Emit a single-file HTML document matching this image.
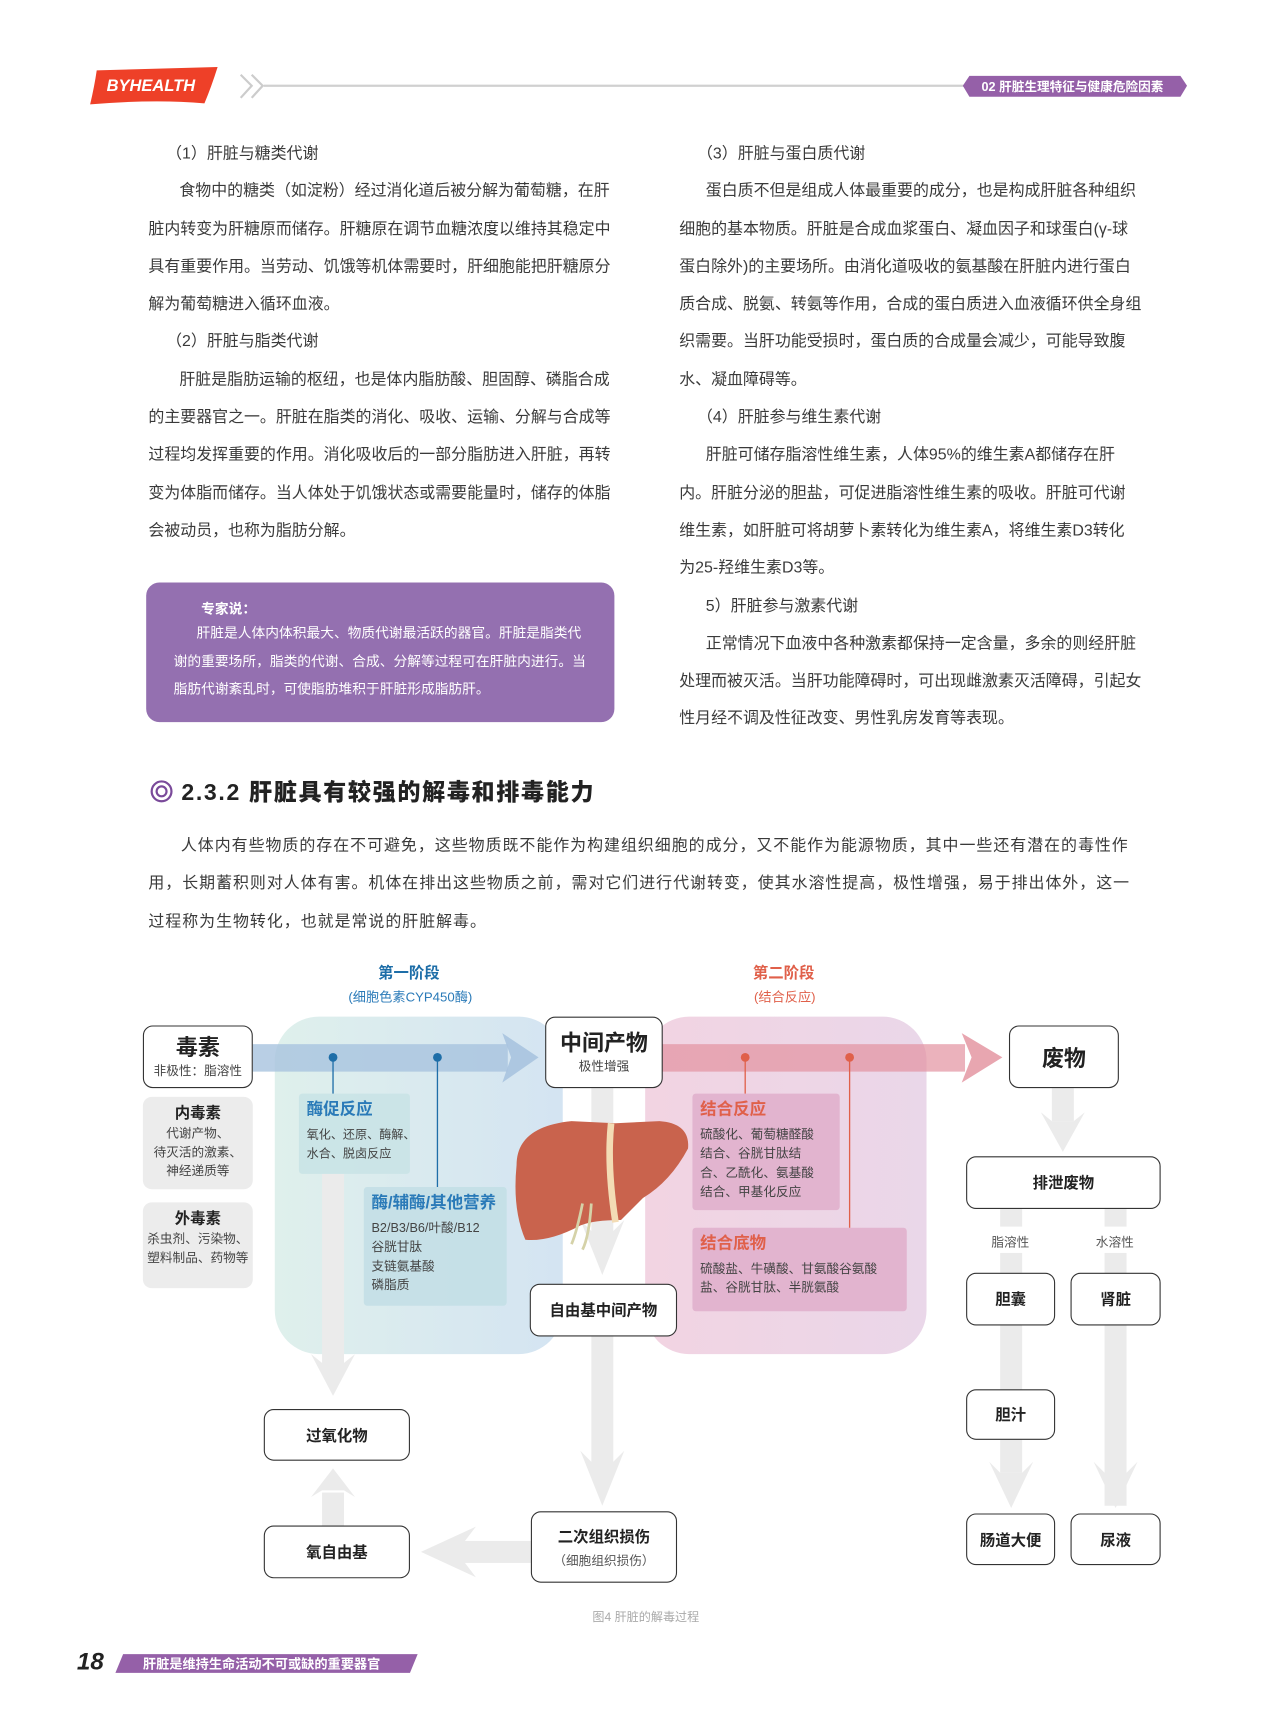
<!DOCTYPE html>
<html><head><meta charset="utf-8">
<style>
html,body{margin:0;padding:0;background:#fff;}
body{width:1275px;height:1718px;overflow:hidden;position:relative;}
#w{position:absolute;left:0;top:0;width:1160px;height:1563px;transform:scale(1.0991);transform-origin:0 0;font-family:"Liberation Sans","Noto Sans CJK SC",sans-serif;color:#444;}
.a{position:absolute;white-space:nowrap;}
.p{position:absolute;font-size:14.5px;line-height:34.3px;color:#3a3a3a;}
.p div{white-space:nowrap;}
.bx{position:absolute;box-sizing:border-box;border:1.5px solid #333;border-radius:9px;background:#fff;text-align:center;display:flex;flex-direction:column;justify-content:center;align-items:center;color:#222;font-weight:bold;}
.gb{position:absolute;background:#ececec;border-radius:8px;text-align:center;font-size:11.5px;line-height:17px;color:#444;}
.gb b{display:block;font-size:14px;color:#222;margin:6px 0 3px;}
.ib{position:absolute;font-size:11.5px;line-height:17.5px;color:#444;padding:6px 7px;box-sizing:border-box;border-radius:3px;white-space:nowrap;}
.ib b{display:block;font-size:15px;margin-bottom:6px;}
svg{position:absolute;left:0;top:0;}
</style></head><body><div id="w">
<svg width="1160" height="1563" viewBox="0 0 1160 1563">
<defs>
<linearGradient id="gB" x1="0" x2="1"><stop offset="0" stop-color="#dff0ec"/><stop offset="1" stop-color="#d4e4f2"/></linearGradient>
<linearGradient id="gP" x1="0" x2="1"><stop offset="0" stop-color="#f2d4e2"/><stop offset="1" stop-color="#ead7e9"/></linearGradient>
</defs>
<path d="M88 64 L198 61 Q192 80 186 94 Q140 90 82 95 Q86 78 88 64Z" fill="#ee4028"/>
<path d="M219 68 L229 78 L219 89 M229 68 L239 78 L229 89" stroke="#ccc" stroke-width="2" fill="none"/>
<line x1="240" y1="78" x2="880" y2="78" stroke="#d0d0d0" stroke-width="2"/>
<path d="M882 69 L1074 69 L1080 78 L1074 88 L882 88 L876 78Z" fill="#9560a8"/>
<rect x="133" y="530" width="426" height="127" rx="12" fill="#9470b0"/>
<circle cx="147" cy="720" r="9" fill="none" stroke="#7a4a9a" stroke-width="2"/>
<circle cx="147" cy="720" r="4.5" fill="none" stroke="#7a4a9a" stroke-width="2"/>
<rect x="250" y="925" width="262" height="307" rx="40" fill="url(#gB)"/>
<rect x="587" y="925" width="256" height="307" rx="40" fill="url(#gP)"/>
<g fill="#ebebeb">
<rect x="293" y="1068" width="20" height="180"/><path d="M283 1232 L303 1270 L323 1232 L313 1240 L293 1240Z"/>
<rect x="538" y="990" width="20" height="130"/><path d="M528 1110 L548 1160 L568 1110 L558 1120 L538 1120Z"/>
<rect x="538" y="1216" width="20" height="120"/><path d="M528 1320 L548 1370 L568 1320 L558 1330 L538 1330Z"/>
<rect x="420" y="1402" width="63" height="20"/><path d="M433 1389 L383 1412 L433 1435 L423 1422 L423 1402Z"/>
<rect x="293" y="1358" width="20" height="30"/><path d="M283 1362 L303 1336 L323 1362 L313 1356 L293 1356Z"/>
<rect x="957" y="990" width="20" height="30"/><path d="M947 1012 L967 1048 L987 1012 L977 1020 L957 1020Z"/>
<rect x="910" y="1100" width="20" height="16"/><rect x="1005" y="1100" width="20" height="16"/>
<rect x="910" y="1140" width="20" height="18"/><rect x="1005" y="1140" width="20" height="230"/>
<rect x="910" y="1206" width="20" height="58"/><rect x="910" y="1310" width="20" height="30"/>
<path d="M900 1330 L920 1372 L940 1330 L930 1340 L910 1340Z"/><path d="M995 1330 L1015 1372 L1035 1330 L1025 1340 L1005 1340Z"/>
</g>
<rect x="230" y="950" width="232" height="25" fill="#a8c3df" opacity="0.8"/>
<path d="M457 940 L490 962 L457 985 L465 962Z" fill="#a8c3df" opacity="0.9"/>
<rect x="598" y="950" width="280" height="25" fill="#e2929f" opacity="0.7"/>
<path d="M875 940 L912 962 L875 985 L884 962Z" fill="#e8a6b0"/>
<rect x="272" y="995" width="101" height="73" rx="3" fill="#c9e3e5" opacity="0.9"/>
<rect x="331" y="1080" width="130" height="108" rx="3" fill="#c3dfe6" opacity="0.9"/>
<rect x="630" y="995" width="134" height="106" rx="3" fill="#e2b4cf"/>
<rect x="630" y="1117" width="195" height="76" rx="3" fill="#e2b4cf"/>
<g stroke-width="1.2">
<line x1="303" y1="962" x2="303" y2="995" stroke="#1e6ea8"/><line x1="398" y1="962" x2="398" y2="1080" stroke="#1e6ea8"/>
<line x1="678" y1="962" x2="678" y2="995" stroke="#e0604a"/><line x1="773" y1="962" x2="773" y2="1117" stroke="#e0604a"/>
</g>
<circle cx="303" cy="962" r="4" fill="#1e6ea8"/><circle cx="398" cy="962" r="4" fill="#1e6ea8"/>
<circle cx="678" cy="962" r="4" fill="#e0604a"/><circle cx="773" cy="962" r="4" fill="#e0604a"/>
<path d="M470 1060 Q470 1025 520 1020 L560 1022 L600 1020 Q628 1022 626 1045 Q610 1075 585 1090 L565 1110 Q540 1110 528 1115 Q500 1130 478 1128 Q466 1100 470 1060Z" fill="#c9634d"/>
<path d="M556 1022 Q552 1060 560 1112" stroke="#f3dcb5" stroke-width="6" fill="none"/>
<path d="M530 1095 Q525 1120 520 1132 M538 1095 Q536 1125 530 1137" stroke="#d5d2a8" stroke-width="2.5" fill="none"/>
<path d="M112 1505 L380 1505 L373 1522 L105 1522Z" fill="#9560a8"/>
</svg>

<div class="a" style="left:97px;top:70px;color:#fff;font-style:italic;font-weight:bold;font-size:15px;">BYHEALTH</div>
<div class="a" style="left:893px;top:71px;color:#fff;font-weight:bold;font-size:11.5px;">02 肝脏生理特征与健康危险因素</div>

<div class="p" style="left:135px;top:123px;width:420px;">
<div>&nbsp;&nbsp;&nbsp;&nbsp;（1）肝脏与糖类代谢</div>
<div>&nbsp;&nbsp;&nbsp;&nbsp;&nbsp;&nbsp;&nbsp;食物中的糖类（如淀粉）经过消化道后被分解为葡萄糖，在肝</div>
<div>脏内转变为肝糖原而储存。肝糖原在调节血糖浓度以维持其稳定中</div>
<div>具有重要作用。当劳动、饥饿等机体需要时，肝细胞能把肝糖原分</div>
<div>解为葡萄糖进入循环血液。</div>
<div>&nbsp;&nbsp;&nbsp;&nbsp;（2）肝脏与脂类代谢</div>
<div>&nbsp;&nbsp;&nbsp;&nbsp;&nbsp;&nbsp;&nbsp;肝脏是脂肪运输的枢纽，也是体内脂肪酸、胆固醇、磷脂合成</div>
<div>的主要器官之一。肝脏在脂类的消化、吸收、运输、分解与合成等</div>
<div>过程均发挥重要的作用。消化吸收后的一部分脂肪进入肝脏，再转</div>
<div>变为体脂而储存。当人体处于饥饿状态或需要能量时，储存的体脂</div>
<div>会被动员，也称为脂肪分解。</div>
</div>

<div class="a" style="left:183px;top:543px;color:#fff;font-weight:bold;font-size:12.5px;">专家说：</div>
<div class="a" style="left:158px;top:564px;color:#fff;font-size:12.5px;line-height:25.5px;">
<div>&nbsp;&nbsp;&nbsp;&nbsp;&nbsp;&nbsp;肝脏是人体内体积最大、物质代谢最活跃的器官。肝脏是脂类代</div>
<div>谢的重要场所，脂类的代谢、合成、分解等过程可在肝脏内进行。当</div>
<div>脂肪代谢紊乱时，可使脂肪堆积于肝脏形成脂肪肝。</div>
</div>

<div class="p" style="left:618px;top:123px;width:425px;">
<div>&nbsp;&nbsp;&nbsp;&nbsp;（3）肝脏与蛋白质代谢</div>
<div>&nbsp;&nbsp;&nbsp;&nbsp;&nbsp;&nbsp;蛋白质不但是组成人体最重要的成分，也是构成肝脏各种组织</div>
<div>细胞的基本物质。肝脏是合成血浆蛋白、凝血因子和球蛋白(γ-球</div>
<div>蛋白除外)的主要场所。由消化道吸收的氨基酸在肝脏内进行蛋白</div>
<div>质合成、脱氨、转氨等作用，合成的蛋白质进入血液循环供全身组</div>
<div>织需要。当肝功能受损时，蛋白质的合成量会减少，可能导致腹</div>
<div>水、凝血障碍等。</div>
<div>&nbsp;&nbsp;&nbsp;&nbsp;（4）肝脏参与维生素代谢</div>
<div>&nbsp;&nbsp;&nbsp;&nbsp;&nbsp;&nbsp;肝脏可储存脂溶性维生素，人体95%的维生素A都储存在肝</div>
<div>内。肝脏分泌的胆盐，可促进脂溶性维生素的吸收。肝脏可代谢</div>
<div>维生素，如肝脏可将胡萝卜素转化为维生素A，将维生素D3转化</div>
<div>为25-羟维生素D3等。</div>
<div>&nbsp;&nbsp;&nbsp;&nbsp;&nbsp;&nbsp;5）肝脏参与激素代谢</div>
<div>&nbsp;&nbsp;&nbsp;&nbsp;&nbsp;&nbsp;正常情况下血液中各种激素都保持一定含量，多余的则经肝脏</div>
<div>处理而被灭活。当肝功能障碍时，可出现雌激素灭活障碍，引起女</div>
<div>性月经不调及性征改变、男性乳房发育等表现。</div>
</div>

<div class="a" style="left:165px;top:705px;font-size:21px;font-weight:900;color:#222;letter-spacing:1.5px;">2.3.2 肝脏具有较强的解毒和排毒能力</div>

<div class="p" style="left:135px;top:753px;width:910px;letter-spacing:0.9px;">
<div>&nbsp;&nbsp;&nbsp;&nbsp;&nbsp;&nbsp;人体内有些物质的存在不可避免，这些物质既不能作为构建组织细胞的成分，又不能作为能源物质，其中一些还有潜在的毒性作</div>
<div>用，长期蓄积则对人体有害。机体在排出这些物质之前，需对它们进行代谢转变，使其水溶性提高，极性增强，易于排出体外，这一</div>
<div>过程称为生物转化，也就是常说的肝脏解毒。</div>
</div>

<div class="a" style="left:344px;top:875px;font-size:14px;font-weight:bold;color:#1e6ea8;">第一阶段</div>
<div class="a" style="left:317px;top:898px;font-size:12px;color:#2a7ab8;">(细胞色素CYP450酶)</div>
<div class="a" style="left:685px;top:875px;font-size:14px;font-weight:bold;color:#e0604a;">第二阶段</div>
<div class="a" style="left:686px;top:898px;font-size:12px;color:#e0604a;">(结合反应)</div>

<div class="bx" style="left:130px;top:933px;width:100px;height:57px;"><span style="font-size:20px;line-height:24px;">毒素</span><span style="font-size:11.5px;font-weight:normal;color:#444;">非极性：脂溶性</span></div>
<div class="gb" style="left:130px;top:998px;width:100px;height:84px;"><b>内毒素</b>代谢产物、<br>待灭活的激素、<br>神经递质等</div>
<div class="gb" style="left:130px;top:1094px;width:100px;height:78px;"><b>外毒素</b>杀虫剂、污染物、<br>塑料制品、药物等</div>
<div class="bx" style="left:496px;top:925px;width:107px;height:65px;"><span style="font-size:20px;line-height:24px;">中间产物</span><span style="font-size:11.5px;font-weight:normal;color:#444;">极性增强</span></div>
<div class="bx" style="left:918px;top:933px;width:100px;height:57px;font-size:20px;">废物</div>

<div class="ib" style="left:272px;top:995px;width:101px;font-size:11px;"><b style="color:#2a7ab8">酶促反应</b>氧化、还原、酶解、<br>水合、脱卤反应</div>
<div class="ib" style="left:331px;top:1080px;width:130px;"><b style="color:#2a7ab8">酶/辅酶/其他营养</b>B2/B3/B6/叶酸/B12<br>谷胱甘肽<br>支链氨基酸<br>磷脂质</div>
<div class="ib" style="left:630px;top:995px;width:134px;"><b style="color:#e0604a">结合反应</b>硫酸化、葡萄糖醛酸<br>结合、谷胱甘肽结<br>合、乙酰化、氨基酸<br>结合、甲基化反应</div>
<div class="ib" style="left:630px;top:1117px;width:195px;"><b style="color:#e0604a">结合底物</b>硫酸盐、牛磺酸、甘氨酸谷氨酸<br>盐、谷胱甘肽、半胱氨酸</div>

<div class="bx" style="left:482px;top:1168px;width:134px;height:48px;font-size:14px;">自由基中间产物</div>
<div class="bx" style="left:483px;top:1375px;width:133px;height:65px;font-size:14px;">二次组织损伤<span style="font-size:11.5px;font-weight:normal;color:#555;margin-top:4px;">（细胞组织损伤）</span></div>
<div class="bx" style="left:240px;top:1282px;width:133px;height:47px;font-size:14px;">过氧化物</div>
<div class="bx" style="left:240px;top:1388px;width:133px;height:48px;font-size:14px;">氧自由基</div>

<div class="bx" style="left:879px;top:1052px;width:177px;height:48px;font-size:14px;">排泄废物</div>
<div class="a" style="left:902px;top:1122px;font-size:11.5px;color:#555;">脂溶性</div>
<div class="a" style="left:997px;top:1122px;font-size:11.5px;color:#555;">水溶性</div>
<div class="bx" style="left:879px;top:1158px;width:81px;height:48px;font-size:14px;">胆囊</div>
<div class="bx" style="left:974px;top:1158px;width:82px;height:48px;font-size:14px;">肾脏</div>
<div class="bx" style="left:879px;top:1264px;width:81px;height:46px;font-size:14px;">胆汁</div>
<div class="bx" style="left:879px;top:1377px;width:81px;height:47px;font-size:14px;">肠道大便</div>
<div class="bx" style="left:974px;top:1377px;width:82px;height:47px;font-size:14px;">尿液</div>

<div class="a" style="left:539px;top:1463px;font-size:11px;color:#aaa;">图4 肝脏的解毒过程</div>

<div class="a" style="left:70px;top:1499px;font-size:22px;font-weight:900;color:#222;font-style:italic;">18</div>
<div class="a" style="left:130px;top:1505px;font-size:12px;font-weight:bold;color:#fff;">肝脏是维持生命活动不可或缺的重要器官</div>
</div></body></html>
